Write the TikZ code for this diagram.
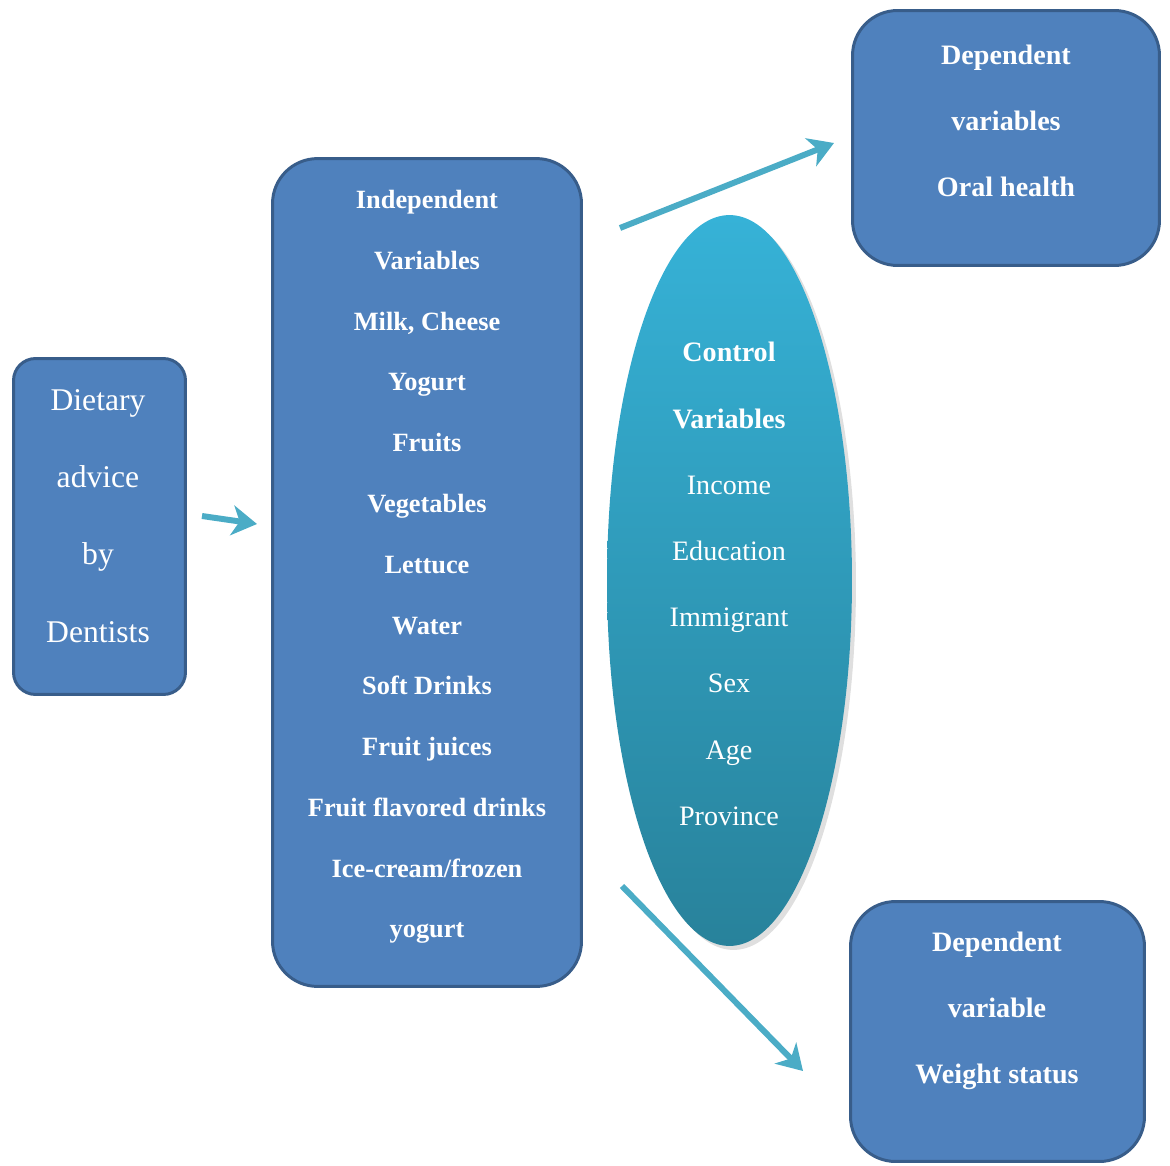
\documentclass[tikz,border=0pt]{standalone}
\usepackage{fontspec}
\setmainfont{Liberation Serif}
\usetikzlibrary{shapes.geometric,arrows.meta,shadows}
\definecolor{boxfill}{RGB}{79,129,189}
\definecolor{boxline}{RGB}{56,93,138}
\definecolor{arrcol}{RGB}{75,172,198}
\definecolor{elltop}{RGB}{54,178,215}
\definecolor{ellbot}{RGB}{40,130,155}
\tikzset{
  varbox/.style={draw=boxline,fill=boxfill,line width=1.7pt,inner sep=0pt},
  vararr/.style={-{Stealth[length=5mm,width=6mm,inset=1.5mm]},line width=3.4pt,arrcol},
  ctrlell/.style={ellipse,inner sep=0pt,top color=elltop,bottom color=ellbot,
    drop shadow={opacity=0.25,shadow xshift=0.8mm,shadow yshift=-0.8mm}},
  vartext/.style={text=white,align=center,inner sep=0pt},
  bigtext/.style={vartext,font=\fontsize{18pt}{44pt}\selectfont},
  listtext/.style={vartext,font=\fontsize{15pt}{34.6pt}\selectfont\bfseries},
  deptext/.style={vartext,font=\fontsize{16pt}{37.6pt}\selectfont\bfseries},
  ctrltext/.style={vartext,font=\fontsize{16pt}{37.7pt}\selectfont}
}

\begin{document}
\begin{tikzpicture}[x=0.02cm,y=-0.02cm]
  \useasboundingbox (0,0) rectangle (1170,1166);

  % --- Boxes ---
  \node[varbox,rounded corners=4.4mm,minimum width=3.44cm,minimum height=6.72cm] (diet) at (99.5,526.5) {};
  \node[varbox,rounded corners=9mm,minimum width=6.18cm,minimum height=16.56cm] (indep) at (427,572.5) {};
  \node[varbox,rounded corners=9mm,minimum width=6.14cm,minimum height=5.1cm] (oral) at (1006,138) {};
  \node[varbox,rounded corners=9mm,minimum width=5.88cm,minimum height=5.2cm] (weight) at (997.5,1031.5) {};

  % --- Ellipse : control variables ---
  \node[ctrlell,minimum width=4.9cm,minimum height=14.62cm] (ctrl) at (729.5,580.5) {};

  % --- Texts ---
  \node[bigtext] (diett) at (98,516) {Dietary\\advice\\by\\Dentists};
  \node[listtext] (indept) at (427,567) {Independent\\Variables\\Milk, Cheese\\Yogurt\\Fruits\\Vegetables\\Lettuce\\Water\\Soft Drinks\\Fruit juices\\Fruit flavored drinks\\Ice-cream/frozen\\yogurt};
  \node[deptext] (oralt) at (1006,121) {Dependent\\variables\\Oral health};
  \node[deptext] (weightt) at (997,1011) {Dependent\\variable\\Weight status};
  \node[ctrltext] (ctrlt) at (729,584) {\textbf{Control}\\\textbf{Variables}\\Income\\Education\\Immigrant\\Sex\\Age\\Province};

  % --- Arrows ---
  \coordinate (a1) at (202,516);
  \coordinate (b1) at (257,524);
  \coordinate (a2) at (620,228);
  \coordinate (b2) at (834,143);
  \coordinate (a3) at (622,886);
  \coordinate (b3) at (803,1071);
  \draw[vararr] (a1) -- (b1);
  \draw[vararr] (a2) -- (b2);
  \draw[vararr] (a3) -- (b3);

\end{tikzpicture}
\end{document}
